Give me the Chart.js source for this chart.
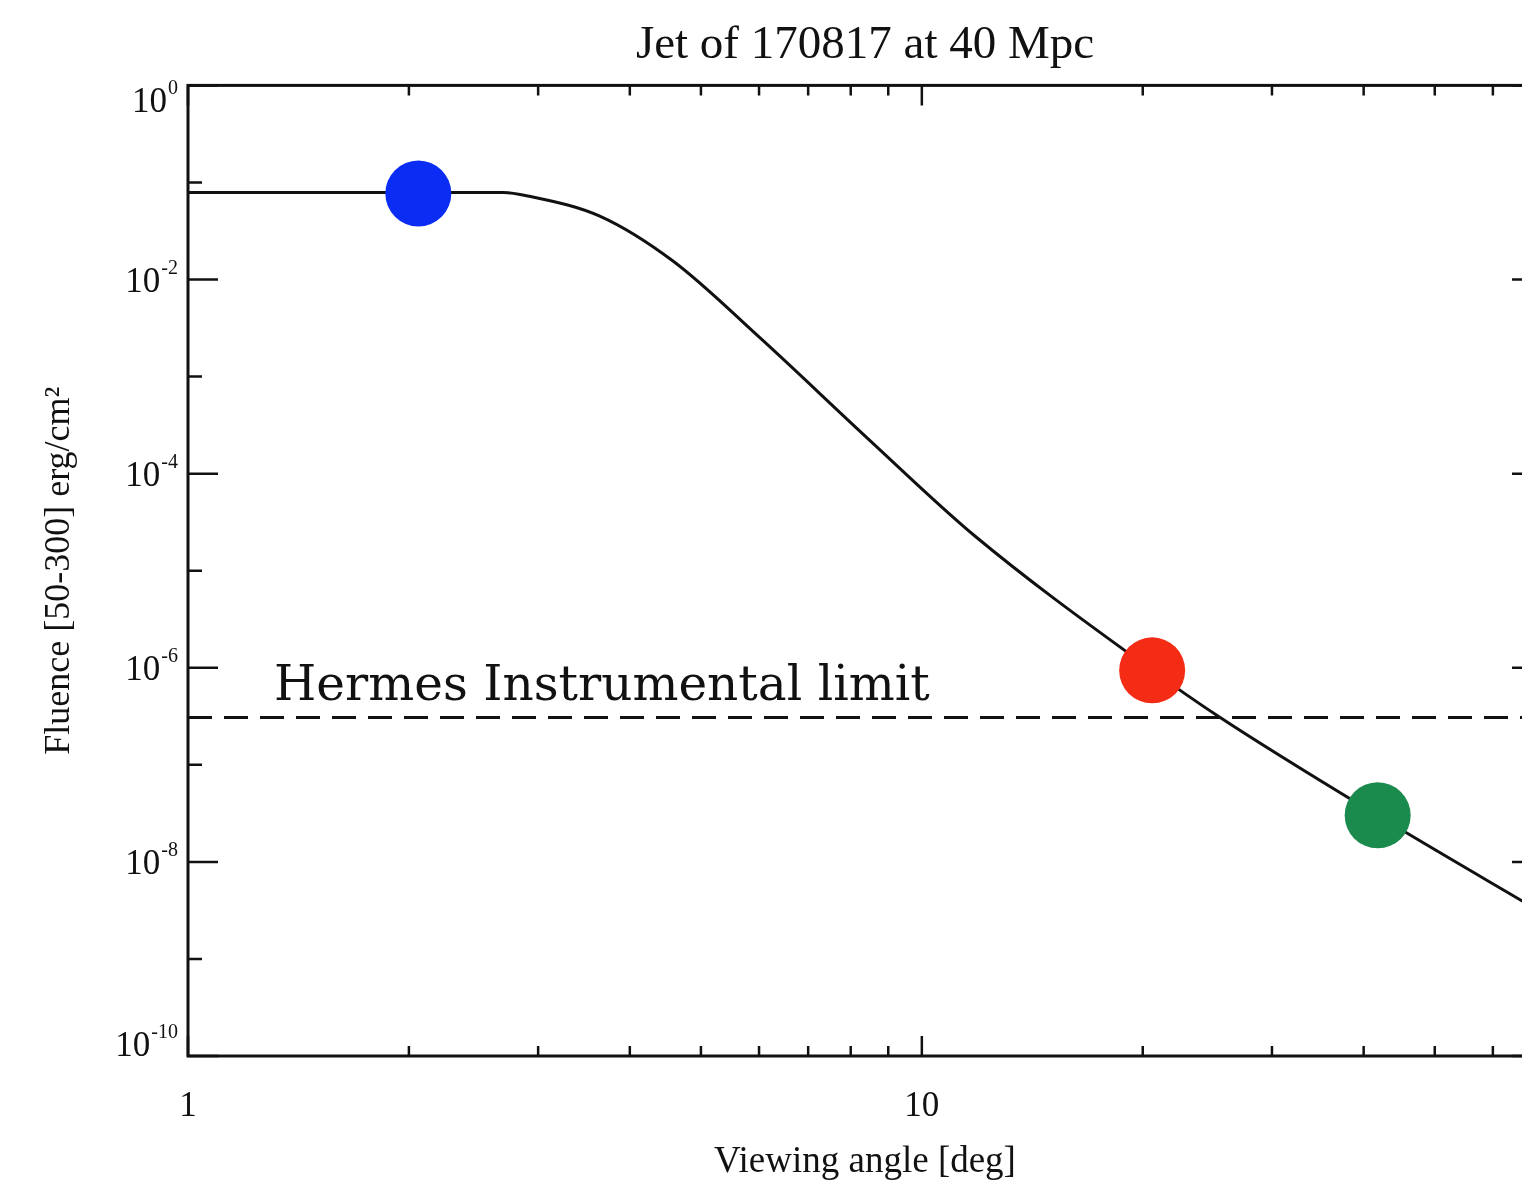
<!DOCTYPE html>
<html>
<head>
<meta charset="utf-8">
<script src="https://cdn.jsdelivr.net/npm/chart.js@4.4.1/dist/chart.umd.min.js"></script>
<style>
  html, body { margin: 0; padding: 0; background: #fff; overflow: hidden; }
  #fluenceChart { display: block; }
</style>
</head>
<body>
<canvas id="fluenceChart" width="1545" height="1182"></canvas>
<script>
// fluence curve of the jet vs viewing angle
const angles = [1, 2.69, 2.92, 3.64, 4.58, 6.02, 8.42, 11.8, 20.6, 25.5, 41.8, 70];
const fluence = [0.079, 0.079, 0.072, 0.045, 0.0155, 2.5e-3, 2.34e-4, 2.29e-5, 9.4e-7, 3.07e-7, 3.0e-8, 3.0e-9];

// highlighted viewing angles
const markAngles = [2.06, 20.6, 41.8];
const markFluence = [0.077, 9.4e-7, 3.02e-8];
const markColors = ["#0b2cf2", "#f42c16", "#1b8a4d"];

// instrumental limit
const limitAngles = [1, 70];
const limitFluence = [3.07e-7, 3.07e-7];

// axis ticks (the last x value only closes the axis, it has no label)
const xLabelled = [1, 10];
const xAxisEnd = 70;
const xMinor = [2, 3, 4, 5, 6, 7, 8, 9, 20, 30, 40, 50, 60];
const yMajor = [1, 1e-2, 1e-4, 1e-6, 1e-8, 1e-10];
const yMinor = [1e-1, 1e-3, 1e-5, 1e-7, 1e-9];
const yExponents = ["0", "-2", "-4", "-6", "-8", "-10"];

const SERIF = "'Liberation Serif', 'Times New Roman', serif";
const INK = "#111";

// box around the plot with inward ticks on every side
const frame = {
  id: "frame",
  afterDatasetsDraw(chart) {
    const { ctx, chartArea: a, scales: { x, y } } = chart;
    ctx.save();
    ctx.strokeStyle = INK;
    ctx.lineWidth = 3;
    ctx.strokeRect(a.left, a.top, a.right - a.left, a.bottom - a.top);

    ctx.lineWidth = 2.5;
    ctx.beginPath();
    const xTick = (v, len) => {
      const px = x.getPixelForValue(v);
      ctx.moveTo(px, a.bottom); ctx.lineTo(px, a.bottom - len);
      ctx.moveTo(px, a.top); ctx.lineTo(px, a.top + len);
    };
    const yTick = (v, len) => {
      const py = y.getPixelForValue(v);
      ctx.moveTo(a.left, py); ctx.lineTo(a.left + len, py);
      ctx.moveTo(a.right, py); ctx.lineTo(a.right - len, py);
    };
    xLabelled.forEach(v => xTick(v, 20));
    xMinor.forEach(v => xTick(v, 10));
    yMajor.forEach(v => yTick(v, 30));
    yMinor.forEach(v => yTick(v, 14));
    ctx.stroke();
    ctx.restore();
  }
};

// 10^n labels on the left axis and the limit caption
const labels = {
  id: "labels",
  afterDraw(chart) {
    const { ctx, chartArea: a, scales: { x, y } } = chart;
    ctx.save();
    ctx.fillStyle = INK;
    const right = a.left - 10;
    yMajor.forEach((v, i) => {
      let py = y.getPixelForValue(v);
      if (i === 0) py += 15;
      if (i === yMajor.length - 1) py -= 12;
      ctx.font = "20px " + SERIF;
      const expW = ctx.measureText(yExponents[i]).width;
      ctx.textAlign = "left";
      ctx.textBaseline = "alphabetic";
      ctx.fillText(yExponents[i], right - expW, py - 6);
      ctx.font = "35px " + SERIF;
      ctx.textAlign = "right";
      ctx.fillText("10", right - expW - 1, py + 12);
    });

    const caption = "Hermes Instrumental limit";
    ctx.font = "44px 'DejaVu Serif', serif";
    const size = 44 * 655 / ctx.measureText(caption).width;
    ctx.font = size.toFixed(1) + "px 'DejaVu Serif', serif";
    ctx.textAlign = "left";
    ctx.fillText(caption, x.getPixelForValue(1.31), y.getPixelForValue(limitFluence[0]) - 18);
    ctx.restore();
  }
};

const ctx = document.getElementById("fluenceChart").getContext("2d");

new Chart(ctx, {
  type: "scatter",
  data: {
    datasets: [
      {
        data: markAngles.map((a, i) => ({ x: a, y: markFluence[i] })),
        backgroundColor: markColors,
        pointRadius: 33,
        pointHoverRadius: 33,
        borderWidth: 0,
        order: 0,
      },
      {
        data: angles.map((a, i) => ({ x: a, y: fluence[i] })),
        showLine: true,
        borderColor: INK,
        borderWidth: 3,
        pointRadius: 0,
        cubicInterpolationMode: "monotone",
        order: 1,
      },
      {
        data: limitAngles.map((a, i) => ({ x: a, y: limitFluence[i] })),
        showLine: true,
        borderColor: INK,
        borderWidth: 3,
        borderDash: [24, 12],
        pointRadius: 0,
        order: 2,
      },
    ],
  },
  options: {
    responsive: false,
    devicePixelRatio: 1,
    animation: false,
    events: [],
    layout: { autoPadding: false, padding: { left: 0, right: 3, top: 0, bottom: 0 } },
    plugins: {
      legend: { display: false },
      tooltip: { enabled: false },
      title: {
        display: true,
        text: "Jet of 170817 at 40 Mpc",
        fullSize: false,
        color: INK,
        font: { family: SERIF, size: 47, weight: "normal" },
        padding: { top: 17, bottom: 12 },
      },
    },
    scales: {
      x: {
        type: "logarithmic",
        min: 1,
        max: xAxisEnd,
        // invisible tick marks only push the labels down
        grid: { display: true, drawOnChartArea: false, drawTicks: true, tickLength: 30, tickColor: "rgba(0,0,0,0)" },
        border: { display: false },
        afterBuildTicks: (s) => {
          s.ticks = xLabelled.concat([xAxisEnd]).map(v => ({ value: v }));
        },
        afterFit: (s) => { s.height = 126; },
        ticks: {
          color: INK,
          font: { family: SERIF, size: 35 },
          padding: 0,
          maxRotation: 0,
          autoSkip: false,
          callback: (v) => (xLabelled.includes(v) ? String(v) : ""),
        },
        title: {
          display: true,
          text: "Viewing angle [deg]",
          color: INK,
          font: { family: SERIF, size: 37, lineHeight: 1 },
          padding: { top: 0, bottom: 1 },
        },
      },
      y: {
        type: "logarithmic",
        min: 1e-10,
        max: 1,
        grid: { display: false, drawTicks: false },
        border: { display: false },
        ticks: { display: false },
        afterFit: (s) => { s.width = 188; },
        title: {
          display: true,
          text: "Fluence [50-300] erg/cm²",
          color: INK,
          font: { family: SERIF, size: 36 },
          padding: { top: 38, bottom: 0 },
        },
      },
    },
  },
  plugins: [frame, labels],
});
</script>
</body>
</html>
